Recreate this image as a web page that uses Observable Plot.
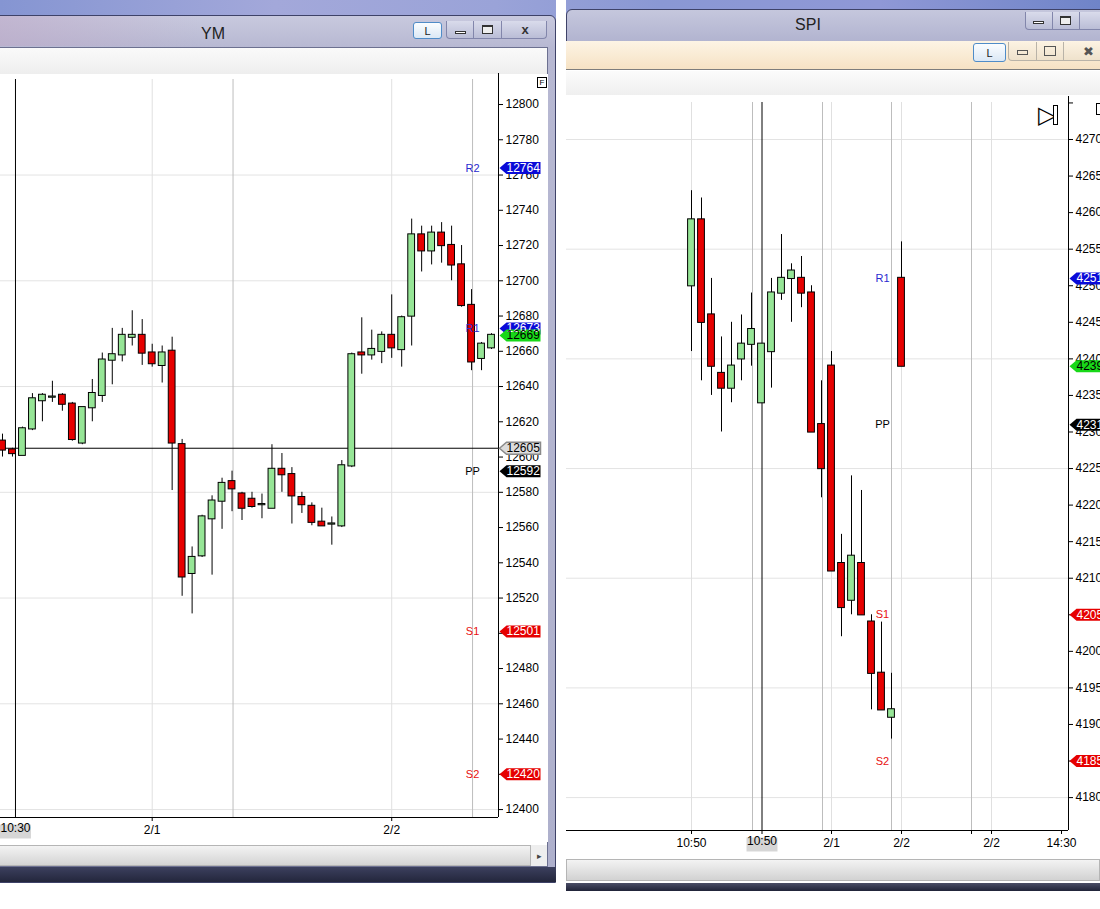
<!DOCTYPE html>
<html><head><meta charset="utf-8">
<script src="https://cdn.jsdelivr.net/npm/d3@7"></script>
<script src="https://cdn.jsdelivr.net/npm/@observablehq/plot@0.6"></script>
<style>
html,body{margin:0;padding:0;}
body{width:1100px;height:909px;overflow:hidden;background:#fff;position:relative;font-family:"Liberation Sans",Arial,sans-serif;}
.a{position:absolute;box-sizing:border-box;}
.plotbox svg{max-width:none;display:block;}
.cap{display:flex;align-items:center;justify-content:center;color:#222;}
</style></head><body>

<script>
// ---------------- YM (left) data ----------------
const ymOpen  = [12609,12604,12601,12616,12632,12634,12635,12630,12608,12628,12635,12655,12658,12668,12669,12659,12652,12660,12607,12534,12544,12565,12575,12586,12579,12576,12573,12571,12593,12590,12577,12572,12563,12562,12561,12595,12659,12658,12660,12669,12661,12680,12726,12717,12727,12720,12709,12686,12656,12662];
const ymHigh  = [12613,12605,12617,12636,12636,12643,12636,12631,12628,12644,12659,12673,12673,12683,12678,12664,12663,12668,12610,12549,12567,12578,12588,12592,12580,12580,12579,12607,12602,12594,12580,12574,12571,12566,12598,12659,12679,12672,12671,12692,12680,12735,12731,12731,12733,12731,12720,12695,12665,12670];
const ymLow   = [12600,12600,12601,12615,12620,12631,12626,12609,12607,12620,12631,12641,12654,12663,12652,12651,12642,12581,12521,12511,12543,12533,12559,12569,12564,12571,12565,12571,12580,12562,12568,12561,12561,12550,12560,12594,12647,12655,12653,12656,12651,12663,12705,12709,12710,12700,12685,12649,12649,12661];
const ymClose = [12604,12602,12616,12633,12635,12634,12630,12610,12628,12636,12655,12658,12669,12669,12659,12653,12659,12608,12532,12543,12566,12575,12585,12582,12571,12572,12573,12593,12590,12578,12573,12563,12561,12562,12595,12658,12658,12661,12669,12662,12679,12726,12717,12727,12720,12709,12686,12654,12664,12669];
const ymPivotNames  = ["R2","R1","PP","S1","S2"];
const ymPivotValues = [12764,12673,12592,12501,12420];
const ymLastPrice   = 12669;
const ymCursorPrice = 12605;
const ymCursorIndex = 1.3;
const ymCursorTime  = "10:30";
const ymYTicks      = [12400,12420,12440,12460,12480,12500,12520,12540,12560,12580,12600,12620,12640,12660,12680,12700,12720,12740,12760,12780,12800];
const ymGridValues  = [12400,12460,12520,12580,12640,12700,12760];
const ymDateTicks   = [15,39];
const ymDateLabels  = ["2/1","2/2"];
const ymSessionBreaks = [23.1,47.1];
const ymPivotLabelIndex = 47.1;
const ymXDomain = [-0.2,49.7];
const ymYDomain = [12395.5,12814.2];

// ---------------- SPI (right) data ----------------
const spiOpen  = [4250,4259,4246,4238,4236,4240,4242,4234,4241,4249,4251,4251,4249,4231,4239,4212,4207,4212,4204,4197,4191,4251];
const spiHigh  = [4263,4262,4251,4243,4245,4246,4249,4242,4251,4257,4253,4254,4250,4237,4241,4216,4224,4222,4205,4204,4197,4256];
const spiLow   = [4241,4237,4235,4230,4234,4237,4239,4234,4236,4248,4245,4247,4230,4221,4211,4202,4205,4205,4192,4192,4188,4239];
const spiClose = [4259,4245,4239,4236,4239,4242,4244,4242,4249,4251,4252,4249,4230,4225,4211,4206,4213,4205,4197,4192,4192,4239];
const spiPivotNames  = ["R1","PP","S1","S2"];
const spiPivotValues = [4251,4231,4205,4185];
const spiLastPrice   = 4239;
const spiCursorIndex = 7.05;
const spiCursorTime  = "10:50";
const spiYTicks      = [4180,4185,4190,4195,4200,4205,4210,4215,4220,4225,4230,4235,4240,4245,4250,4255,4260,4265,4270,4275];
const spiGridValues  = [4180,4195,4210,4225,4240,4255,4270];
const spiTimeTicks   = [0,7.05,14,21,28,30,37];
const spiTimeLabels  = ["10:50","","2/1","2/2","","2/2","14:30"];
const spiLightLines  = [0,14,21,30];
const spiSessionBreaks = [6.1,13.1,20,28];
const spiPivotLabelIndex = 19.1;
const spiXDomain = [-12.5,37.7];
const spiYDomain = [4175.5,4275.06];
</script>

<!-- desktop -->
<div class="a" style="left:0;top:0;width:1100px;height:30px;background:linear-gradient(90deg,#8595d2 0%,#a3a8da 25%,#9aa3d8 45%,#8a98d4 60%,#8f98d6 80%,#6f84c8 100%);"></div>
<div class="a" style="left:556px;top:0;width:10px;height:909px;background:#fff;"></div>

<!-- left window -->
<div class="a" style="left:-8px;top:15px;width:564px;height:868px;background:linear-gradient(180deg,#c8c9de 0px,#b7b8d2 32px,#aeb0cc 100%);border:1px solid #3e4268;border-radius:6px 6px 0 0;"></div>
<div class="a" style="left:0;top:16px;width:200px;height:30px;background:linear-gradient(90deg,rgba(190,170,200,0.6),rgba(190,170,200,0));"></div>
<div class="a cap" style="left:173px;top:24px;width:80px;height:20px;font-size:16px;">YM</div>
<div class="a cap" style="left:413px;top:22px;width:29px;height:17px;background:linear-gradient(#fbfdff,#dbe8f5);border:1px solid #4f8cc8;border-radius:3px;font-size:11px;">L</div>
<div class="a" style="left:446px;top:21px;width:101px;height:18px;background:linear-gradient(#d9dbeb,#babdd6);border:1px solid #8286ab;border-top:none;border-radius:0 0 4px 4px;"></div>
<div class="a" style="left:473px;top:21px;width:1px;height:18px;background:#8286ab;"></div>
<div class="a" style="left:501px;top:21px;width:1px;height:18px;background:#8286ab;"></div>
<div class="a" style="left:455px;top:31px;width:11px;height:3px;background:#fff;border:1px solid #333;"></div>
<div class="a" style="left:482px;top:25px;width:11px;height:9px;border:1px solid #333;border-top-width:2px;background:#eee;"></div>
<div class="a cap" style="left:512px;top:21px;width:26px;height:17px;font-size:13px;font-weight:bold;color:#333;">x</div>

<div class="a" style="left:0;top:47px;width:548px;height:820px;background:#fff;border:1px solid #6c7090;border-left:none;"></div>
<div class="a" style="left:0;top:48px;width:547px;height:26px;background:linear-gradient(#fafafa,#eeeeee);"></div>
<div class="a plotbox" id="ym" style="left:0;top:74px;width:548px;height:768px;"></div>
<div class="a" style="left:537px;top:77px;width:10px;height:11px;border:1px solid #000;background:#fff;font-size:8px;line-height:9px;text-align:center;">F</div>
<div class="a" style="left:0;top:845px;width:531px;height:21px;background:linear-gradient(#f3f3f3,#d4d4d4);border:1px solid #b5b5b5;border-left:none;"></div>
<div class="a cap" style="left:531px;top:845px;width:16px;height:21px;background:#eeeeee;font-size:9px;color:#444;">&#9656;</div>
<div class="a" style="left:0;top:867px;width:556px;height:15px;background:linear-gradient(#3c405e,#23263c);"></div>

<!-- right window -->
<div class="a" style="left:566px;top:9px;width:542px;height:882px;background:linear-gradient(180deg,#c5c7dd 0px,#b2b4d0 31px,#aeb0cc 100%);border:1px solid #3e4268;border-radius:6px 6px 0 0;"></div>
<div class="a cap" style="left:768px;top:15px;width:80px;height:20px;font-size:16px;">SPI</div>
<div class="a" style="left:1025px;top:12px;width:90px;height:18px;background:linear-gradient(#d9dbeb,#babdd6);border:1px solid #8286ab;border-top:none;border-radius:0 0 4px 4px;"></div>
<div class="a" style="left:1052px;top:12px;width:1px;height:18px;background:#8286ab;"></div>
<div class="a" style="left:1079px;top:12px;width:1px;height:18px;background:#8286ab;"></div>
<div class="a" style="left:1033px;top:21px;width:11px;height:3px;background:#fff;border:1px solid #333;"></div>
<div class="a" style="left:1060px;top:16px;width:11px;height:9px;border:1px solid #333;border-top-width:2px;background:#eee;"></div>

<div class="a" style="left:566px;top:41px;width:534px;height:842px;background:#fff;"></div>
<div class="a" style="left:566px;top:41px;width:534px;height:29px;background:linear-gradient(#fdf4e5,#f6e2c4);border-bottom:1px solid #7d7d7d;"></div>
<div class="a cap" style="left:973px;top:43px;width:33px;height:19px;background:linear-gradient(#fbfdff,#dbe8f5);border:1px solid #4f8cc8;border-radius:3px;font-size:11px;">L</div>
<div class="a" style="left:1008px;top:42px;width:100px;height:19px;border:1px solid #b9b3a8;border-top:none;border-radius:0 0 4px 4px;background:linear-gradient(#fcf2e2,#efe2cc);"></div>
<div class="a" style="left:1036px;top:42px;width:1px;height:19px;background:#b9b3a8;"></div>
<div class="a" style="left:1063px;top:42px;width:1px;height:19px;background:#b9b3a8;"></div>
<div class="a" style="left:1017px;top:50px;width:11px;height:5px;border:1px solid #555;"></div>
<div class="a" style="left:1044px;top:46px;width:12px;height:10px;border:1px solid #555;"></div>
<div class="a cap" style="left:1078px;top:43px;width:20px;height:16px;font-size:13px;color:#555;">&#x2716;</div>
<div class="a" style="left:566px;top:71px;width:534px;height:24px;background:linear-gradient(#fbfbfb,#efefef);"></div>
<div class="a plotbox" id="spi" style="left:566px;top:95px;width:560px;height:760px;"></div>
<div class="a" style="left:1038px;top:103px;font-size:24px;line-height:24px;color:#000;">&#9655;</div>
<div class="a" style="left:1053px;top:105px;width:5px;height:20px;border:1px solid #000;background:#fff;"></div>
<div class="a" style="left:1096px;top:103px;width:10px;height:12px;border:1px solid #000;background:#fff;"></div>
<div class="a" style="left:566px;top:859px;width:534px;height:22px;background:linear-gradient(#f3f3f3,#d2d2d2);border:1px solid #b5b5b5;"></div>
<div class="a" style="left:566px;top:883px;width:534px;height:8px;background:linear-gradient(#4a4d66,#202338);"></div>

<script>
const GREEN = "#96e596", RED = "#e60000", BLUE = "#0a0ad8", LBLUE = "#2a2ad0";
const FONT = "Liberation Sans, Arial, sans-serif";

function bars(o, h, l, c) {
  return o.map((v, i) => ({i, open: v, high: h[i], low: l[i], close: c[i]}));
}
function tagShape(w, hh) {
  return {draw(ctx) { ctx.moveTo(0, 0); ctx.lineTo(7, -hh); ctx.lineTo(w, -hh); ctx.lineTo(w, hh); ctx.lineTo(7, hh); ctx.closePath(); }};
}
function boxShape(w, hh) {
  return {draw(ctx) { ctx.moveTo(-w / 2, -hh); ctx.lineTo(w / 2, -hh); ctx.lineTo(w / 2, hh); ctx.lineTo(-w / 2, hh); ctx.closePath(); }};
}
function levelColor(name) { return name[0] === "R" ? LBLUE : name[0] === "S" ? "#e81010" : "#000"; }
function tagFill(k) { return k === "R" ? BLUE : k === "S" ? RED : k === "P" ? "#000" : k === "last" ? "#18d818" : "#dcdcdc"; }
function tagText(k) { return (k === "last" || k === "cursor") ? "#000" : "#fff"; }

function candleChart(cfg) {
  const data = bars(cfg.open, cfg.high, cfg.low, cfg.close);
  const levels = cfg.pivotNames.map((n, i) => ({name: n, value: cfg.pivotValues[i]}));
  const tags = [];
  levels.forEach(l => { if (l.name[0] === "R") tags.push({value: l.value, kind: "R"}); });
  if (cfg.cursorPrice != null) tags.push({value: cfg.cursorPrice, kind: "cursor"});
  tags.push({value: cfg.lastPrice, kind: "last"});
  levels.forEach(l => { if (l.name[0] !== "R") tags.push({value: l.value, kind: l.name[0]}); });
  const labelMap = new Map(cfg.timeTicks.map((t, i) => [t, cfg.timeLabels[i]]));
  const yLabelMax = cfg.yLabelMax;
  const marks = [
    Plot.ruleY(cfg.gridValues, {stroke: "#e3e3e3"}),
    Plot.ruleX(cfg.lightLines, {stroke: "#e0e0e0"}),
    Plot.ruleX(cfg.sessionBreaks, {stroke: "#bdbdbd"}),
  ];
  if (cfg.cursorPrice != null) marks.push(Plot.ruleY([cfg.cursorPrice], {stroke: "#000"}));
  marks.push(
    Plot.ruleX([cfg.cursorIndex], {stroke: "#000"}),
    Plot.ruleX(data, {x: "i", y1: "low", y2: "high", stroke: "#000"}),
    Plot.rect(data, {x1: d => d.i - 0.34, x2: d => d.i + 0.34, y1: "open", y2: "close",
      fill: d => d.close >= d.open ? GREEN : RED, stroke: "#000", strokeWidth: 1,
      insetTop: -0.6, insetBottom: -0.6}),
    Plot.text(levels, {x: () => cfg.pivotLabelIndex, y: "value", text: "name", fill: d => levelColor(d.name), fontSize: 11}),
    Plot.ruleX([cfg.xDomain[1]], {stroke: "#000", insetTop: -6}),
    Plot.ruleY([cfg.yDomain[0]], {stroke: "#000"}),
    Plot.axisY(cfg.yTicks, {anchor: "right", label: null, tickSize: 4, tickPadding: 3, fontSize: 12,
      tickFormat: d => (yLabelMax != null && d > yLabelMax) ? "" : String(d)}),
    Plot.axisX(cfg.timeTicks, {anchor: "bottom", label: null, tickSize: 4, tickPadding: 4, fontSize: 12,
      tickFormat: d => labelMap.get(d)}),
    Plot.dot([cfg.cursorTime], {x: () => cfg.cursorIndex, frameAnchor: "bottom", dy: 14, r: 5,
      symbol: boxShape(31, 7), fill: "#d6d6d6", stroke: "none"}),
    Plot.text([cfg.cursorTime], {x: () => cfg.cursorIndex, frameAnchor: "bottom", dy: 14, text: d => d, fill: "#000", fontSize: 12}),
    Plot.dot(tags, {y: "value", frameAnchor: "right", dx: 1, r: 5, symbol: tagShape(cfg.tagWidth, 6),
      fill: d => tagFill(d.kind), stroke: d => d.kind === "cursor" ? "#8a8a8a" : "none"}),
    Plot.text(tags, {y: "value", frameAnchor: "right", dx: 8, textAnchor: "start", text: d => String(d.value),
      fill: d => tagText(d.kind), fontSize: 12})
  );
  return Plot.plot({
    width: cfg.width, height: cfg.height,
    marginLeft: 0, marginRight: cfg.marginRight, marginTop: cfg.marginTop, marginBottom: cfg.marginBottom,
    x: {domain: cfg.xDomain, axis: null, label: null},
    y: {domain: cfg.yDomain, axis: null, label: null},
    color: {type: "identity"},
    style: {fontFamily: FONT, fontSize: "12px", color: "#000", background: "#fff", overflow: "visible"},
    marks
  });
}

document.getElementById("ym").append(candleChart({
  open: ymOpen, high: ymHigh, low: ymLow, close: ymClose,
  pivotNames: ymPivotNames, pivotValues: ymPivotValues, lastPrice: ymLastPrice,
  cursorPrice: ymCursorPrice, cursorIndex: ymCursorIndex, cursorTime: ymCursorTime,
  yTicks: ymYTicks, gridValues: ymGridValues, timeTicks: ymDateTicks, timeLabels: ymDateLabels,
  lightLines: ymDateTicks, sessionBreaks: ymSessionBreaks, pivotLabelIndex: ymPivotLabelIndex,
  xDomain: ymXDomain, yDomain: ymYDomain, yLabelMax: null, tagWidth: 41,
  width: 548, height: 768, marginRight: 50, marginTop: 5, marginBottom: 25
}));

document.getElementById("spi").append(candleChart({
  open: spiOpen, high: spiHigh, low: spiLow, close: spiClose,
  pivotNames: spiPivotNames, pivotValues: spiPivotValues, lastPrice: spiLastPrice,
  cursorPrice: null, cursorIndex: spiCursorIndex, cursorTime: spiCursorTime,
  yTicks: spiYTicks, gridValues: spiGridValues, timeTicks: spiTimeTicks, timeLabels: spiTimeLabels,
  lightLines: spiLightLines, sessionBreaks: spiSessionBreaks, pivotLabelIndex: spiPivotLabelIndex,
  xDomain: spiXDomain, yDomain: spiYDomain, yLabelMax: 4270, tagWidth: 45,
  width: 560, height: 760, marginRight: 58, marginTop: 7, marginBottom: 25
}));
</script>
</body></html>
